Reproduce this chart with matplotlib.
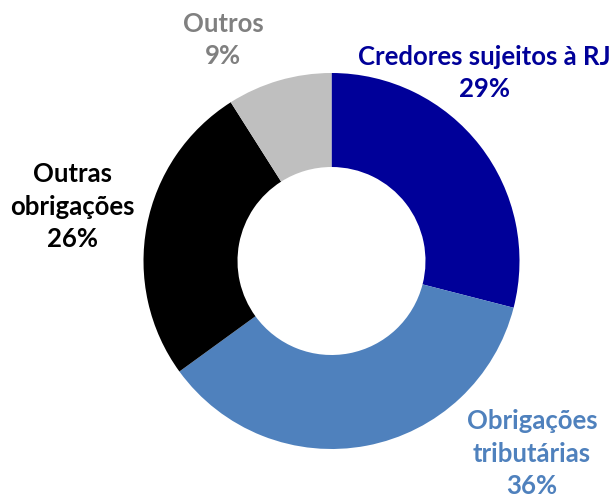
import matplotlib.pyplot as plt

labels = ["Credores sujeitos à RJ", "Obrigações\ntributárias", "Outras\nobrigações", "Outros"]
shares = [29, 36, 26, 9]
slice_colors = ["#000099", "#4F81BD", "#000000", "#BFBFBF"]
text_colors = ["#000099", "#4F81BD", "#000000", "#808080"]

# label centres in pixels (x, baseline of the last line), image is 614x499
label_px = [(484, 97), (532, 494), (72, 247), (223, 64)]

W, H = 614, 499
cx, cy, R = 331.5, 261, 188

fig = plt.figure(figsize=(W / 100, H / 100), dpi=100)
ax = fig.add_axes([0, 0, 1, 1])

ax.pie(shares, colors=slice_colors, startangle=90, counterclock=False,
       radius=1, wedgeprops=dict(width=0.5, linewidth=0))

ax.set_aspect("auto")
ax.set_xlim(-cx / R, (W - cx) / R)
ax.set_ylim((cy - H) / R, cy / R)
ax.axis("off")

for lab, val, col, (px, py) in zip(labels, shares, text_colors, label_px):
    txt = lab + "\n" + str(val) + "%"
    ax.text((px - cx) / R, (cy - py) / R, txt, ha="center", va="baseline",
            multialignment="center", color=col, fontsize=18.5, fontweight="bold",
            family=["Lato", "DejaVu Sans"], linespacing=1.42)

fig.savefig("out.png", dpi=100)
